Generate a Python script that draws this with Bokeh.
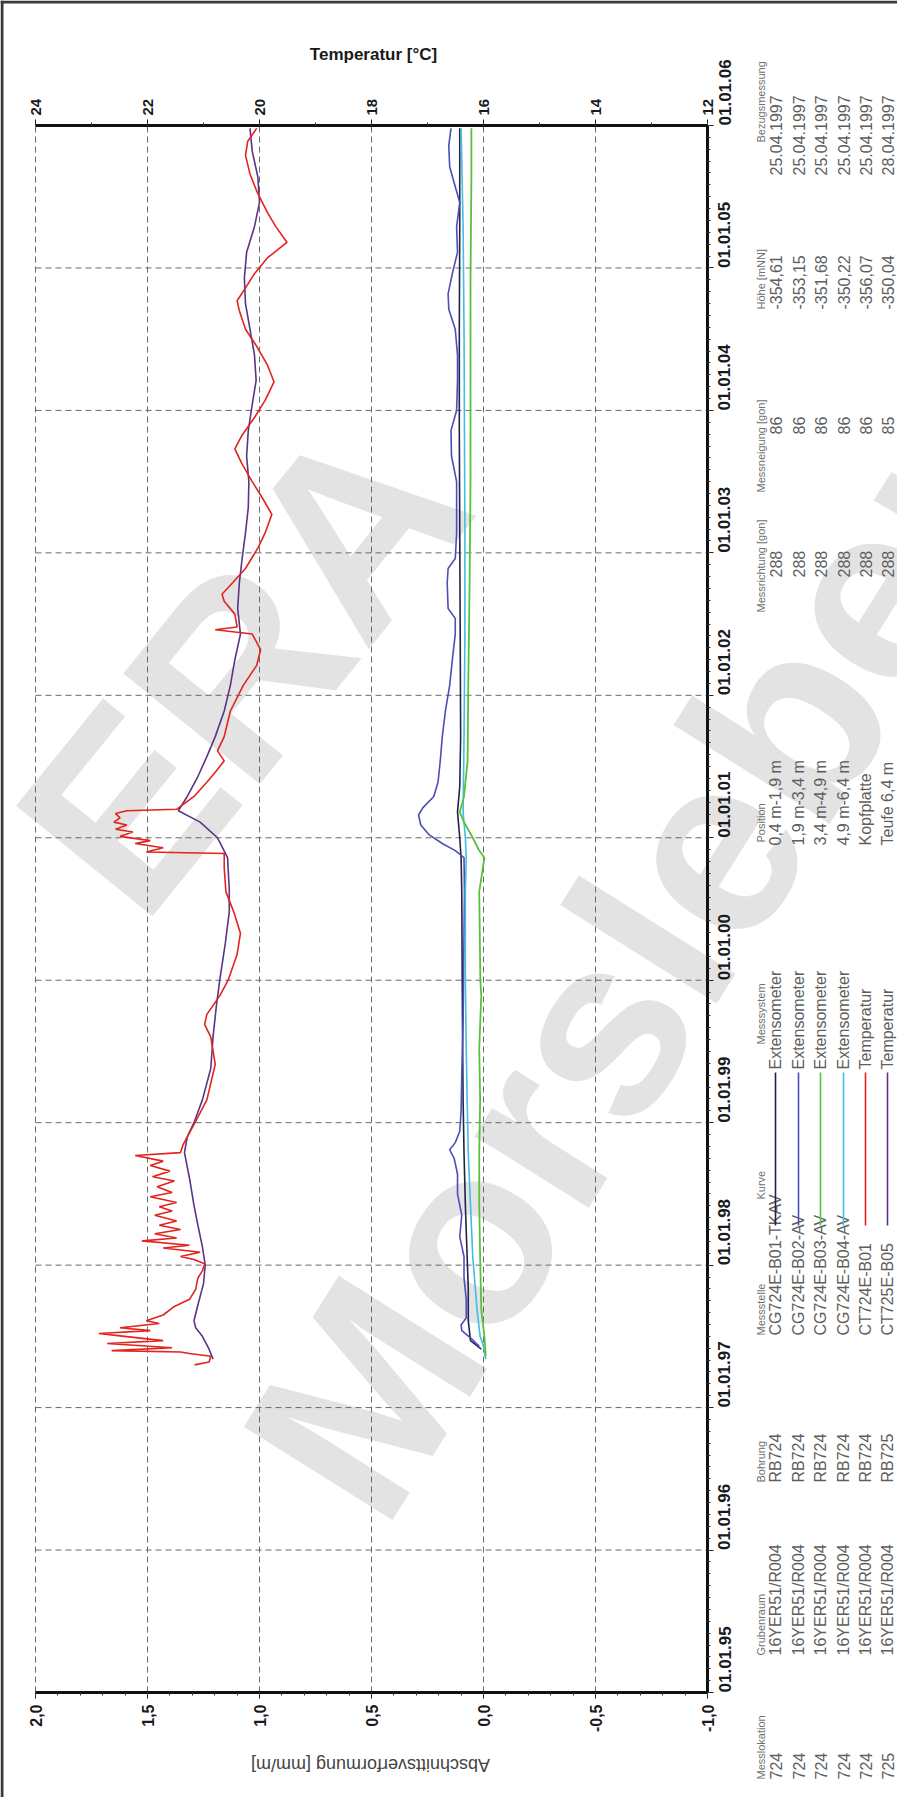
import math
from bokeh.plotting import figure
from bokeh.models import Range1d, LinearAxis, FixedTicker
from bokeh.core.properties import value
from bokeh.embed import file_html
from bokeh.resources import INLINE

# ---------------- data ----------------
years = [1995, 1996, 1997, 1998, 1999, 2000, 2001, 2002, 2003, 2004, 2005, 2006]
date_labels = ["01.01.95", "01.01.96", "01.01.97", "01.01.98", "01.01.99", "01.01.00",
               "01.01.01", "01.01.02", "01.01.03", "01.01.04", "01.01.05", "01.01.06"]
mm_ticks = [2.0, 1.5, 1.0, 0.5, 0.0, -0.5, -1.0]
mm_labels = ["2,0", "1,5", "1,0", "0,5", "0,0", "-0,5", "-1,0"]
temp_ticks = [24, 22, 20, 18, 16, 14, 12]
temp_labels = ["24", "22", "20", "18", "16", "14", "12"]

# CG724E-B01-TKAV (Extensometer, mm/m)
b01_year = [1997.41, 1997.47, 1997.61, 1997.83, 1998.06, 1998.42, 1998.79, 1999.16, 1999.52,
            2000.00, 2000.62, 2000.86, 2001.00, 2001.18, 2001.36, 2001.71, 2002.43, 2003.14,
            2003.86, 2004.57, 2005.29, 2005.98]
b01_mm = [0.010, 0.058, 0.068, 0.068, 0.073, 0.081, 0.087, 0.091, 0.093,
          0.095, 0.097, 0.100, 0.106, 0.116, 0.106, 0.102, 0.104, 0.106,
          0.108, 0.108, 0.106, 0.106]

# CG724E-B02-AV
b02_year = [1997.43, 1997.49, 1997.54, 1997.58, 1997.63, 1997.76, 1997.91, 1998.06, 1998.20,
            1998.35, 1998.50, 1998.64, 1998.75, 1998.81, 1998.86, 1998.94, 1999.08, 1999.34,
            1999.71, 2000.00, 2000.33, 2000.62, 2000.86, 2000.91, 2000.96, 2001.02, 2001.09,
            2001.16, 2001.21, 2001.29, 2001.39, 2001.54, 2001.71, 2001.89, 2002.07, 2002.25,
            2002.43, 2002.54, 2002.61, 2002.79, 2002.89, 2002.96, 2003.14, 2003.32, 2003.50,
            2003.68, 2003.86, 2004.00, 2004.21, 2004.39, 2004.57, 2004.71, 2004.82, 2004.96,
            2005.11, 2005.29, 2005.46, 2005.57, 2005.71, 2005.86, 2005.98]
b02_mm = [0.019, 0.058, 0.097, 0.100, 0.077, 0.077, 0.087, 0.087, 0.106,
          0.097, 0.116, 0.116, 0.131, 0.151, 0.126, 0.106, 0.100, 0.097,
          0.091, 0.089, 0.087, 0.085, 0.087, 0.126, 0.184, 0.242, 0.280,
          0.290, 0.271, 0.222, 0.203, 0.193, 0.184, 0.170, 0.151, 0.139,
          0.126, 0.126, 0.158, 0.162, 0.158, 0.126, 0.120, 0.120, 0.120,
          0.143, 0.145, 0.120, 0.116, 0.116, 0.126, 0.155, 0.158, 0.139,
          0.116, 0.120, 0.106, 0.126, 0.151, 0.155, 0.145]

# CG724E-B03-AV
b03_year = [1997.36, 1997.50, 1997.69, 1998.06, 1998.42, 1998.79, 1999.16, 1999.52, 1999.89,
            2000.00, 2000.62, 2000.86, 2000.91, 2001.00, 2001.11, 2001.18, 2001.29, 2001.54,
            2002.07, 2002.79, 2003.50, 2004.21, 2004.93, 2005.64, 2005.98]
b03_mm = [-0.010, -0.004, 0.010, 0.015, 0.019, 0.019, 0.015, 0.019, 0.010,
          0.014, 0.019, -0.004, 0.019, 0.048, 0.087, 0.106, 0.087, 0.071,
          0.068, 0.062, 0.058, 0.058, 0.058, 0.054, 0.054]

# CG724E-B04-AV
b04_year = [1997.34, 1997.43, 1997.50, 1997.69, 1998.06, 1998.42, 1998.79, 1999.16, 1999.52,
            2000.00, 2000.62, 2000.86, 2001.00, 2001.18, 2001.71, 2002.43, 2003.14, 2003.86,
            2004.57, 2005.29, 2005.98]
b04_mm = [-0.010, 0.000, 0.015, 0.029, 0.048, 0.058, 0.068, 0.073, 0.077,
          0.081, 0.081, 0.077, 0.081, 0.091, 0.087, 0.083, 0.083, 0.085,
          0.087, 0.091, 0.100]

# CT724E-B01 (Temperatur, Kopfplatte, deg C)
t724_year = [1997.30, 1997.32, 1997.36, 1997.38, 1997.39, 1997.40, 1997.42, 1997.45, 1997.47,
             1997.50, 1997.52, 1997.54, 1997.56, 1997.59, 1997.61, 1997.65, 1997.71, 1997.76,
             1997.83, 1997.91, 1997.96, 1998.01, 1998.04, 1998.06, 1998.09, 1998.12, 1998.14,
             1998.17, 1998.19, 1998.22, 1998.25, 1998.28, 1998.31, 1998.35, 1998.38, 1998.41,
             1998.44, 1998.48, 1998.51, 1998.55, 1998.59, 1998.62, 1998.66, 1998.70, 1998.73,
             1998.77, 1998.79, 1998.84, 1998.90, 1999.01, 1999.16, 1999.41, 1999.60, 1999.69,
             1999.76, 1999.89, 2000.00, 2000.18, 2000.33, 2000.48, 2000.62, 2000.79, 2000.89,
             2000.90, 2000.93, 2000.96, 2000.98, 2001.01, 2001.04, 2001.06, 2001.09, 2001.11,
             2001.14, 2001.17, 2001.19, 2001.20, 2001.29, 2001.39, 2001.46, 2001.54, 2001.61,
             2001.71, 2001.89, 2002.07, 2002.21, 2002.32, 2002.43, 2002.46, 2002.48, 2002.57,
             2002.66, 2002.71, 2002.79, 2002.89, 2003.04, 2003.14, 2003.27, 2003.38, 2003.50,
             2003.63, 2003.73, 2003.82, 2003.95, 2004.07, 2004.20, 2004.32, 2004.45, 2004.57,
             2004.70, 2004.77, 2004.86, 2004.96, 2005.07, 2005.18, 2005.29, 2005.39, 2005.54,
             2005.66, 2005.79, 2005.89, 2005.98]
t724_temp = [21.16, 20.90, 20.87, 21.25, 21.41, 22.64, 21.56, 22.72, 21.72,
             22.41, 22.87, 21.95, 22.49, 21.79, 22.02, 21.72, 21.52, 21.25,
             21.14, 21.10, 21.02, 20.98, 21.17, 21.41, 21.06, 21.72, 21.25,
             22.10, 21.48, 21.87, 21.41, 21.79, 21.48, 21.87, 21.56, 21.79,
             21.48, 21.95, 21.56, 21.83, 21.52, 21.91, 21.60, 21.95, 21.72,
             22.22, 21.41, 21.37, 21.29, 21.14, 20.94, 20.79, 20.87, 20.98,
             20.94, 20.71, 20.56, 20.40, 20.34, 20.46, 20.60, 20.63, 20.63,
             22.02, 21.72, 22.22, 21.95, 22.49, 22.26, 22.57, 22.37, 22.60,
             22.49, 22.57, 22.37, 21.48, 21.17, 20.94, 20.79, 20.63, 20.75,
             20.63, 20.52, 20.29, 20.05, 19.98, 20.13, 20.79, 20.40, 20.44,
             20.63, 20.67, 20.48, 20.25, 20.02, 19.90, 19.78, 19.94, 20.13,
             20.32, 20.44, 20.32, 20.09, 19.90, 19.74, 19.86, 20.05, 20.25,
             20.36, 20.40, 20.25, 20.09, 19.86, 19.51, 19.71, 19.86, 20.05,
             20.17, 20.25, 20.21, 20.05]

# CT725E-B05 (Temperatur, Teufe 6,4 m, deg C)
t725_year = [1997.34, 1997.41, 1997.50, 1997.56, 1997.61, 1997.72, 1997.87, 1998.00, 1998.13,
             1998.28, 1998.42, 1998.61, 1998.79, 1998.90, 1999.01, 1999.16, 1999.38, 1999.60,
             1999.82, 2000.00, 2000.26, 2000.48, 2000.64, 2000.86, 2001.00, 2001.11, 2001.19,
             2001.29, 2001.43, 2001.57, 2001.71, 2001.89, 2002.07, 2002.25, 2002.43, 2002.61,
             2002.79, 2002.96, 2003.14, 2003.32, 2003.50, 2003.68, 2003.86, 2004.04, 2004.21,
             2004.39, 2004.57, 2004.75, 2004.93, 2005.11, 2005.29, 2005.46, 2005.64, 2005.82,
             2005.98]
t725_temp = [20.83, 20.90, 21.02, 21.14, 21.17, 21.10, 21.00, 20.97, 21.02,
             21.10, 21.17, 21.25, 21.34, 21.29, 21.16, 21.02, 20.87, 20.83,
             20.77, 20.71, 20.61, 20.54, 20.54, 20.57, 20.75, 21.06, 21.45,
             21.29, 21.10, 20.94, 20.79, 20.63, 20.52, 20.44, 20.34, 20.39,
             20.36, 20.31, 20.25, 20.20, 20.19, 20.23, 20.20, 20.13, 20.06,
             20.09, 20.17, 20.25, 20.27, 20.23, 20.09, 20.00, 20.03, 20.13,
             20.17]

# legend table
hdr_names = ["Messlokation", "Grubenraum", "Bohrung", "Messstelle", "Kurve", "Messsystem",
             "Position", "Messrichtung [gon]", "Messneigung [gon]", "Höhe [mNN]", "Bezugsmessung"]
col_messlokation = ["724", "724", "724", "724", "724", "725"]
col_grubenraum = ["16YER51/R004"] * 6
col_bohrung = ["RB724", "RB724", "RB724", "RB724", "RB724", "RB725"]
col_messstelle = ["CG724E-B01-TKAV", "CG724E-B02-AV", "CG724E-B03-AV", "CG724E-B04-AV",
                  "CT724E-B01", "CT725E-B05"]
col_messsystem = ["Extensometer"] * 4 + ["Temperatur"] * 2
col_position = ["0,4 m-1,9 m", "1,9 m-3,4 m", "3,4 m-4,9 m", "4,9 m-6,4 m", "Kopfplatte", "Teufe 6,4 m"]
col_richtung = ["288"] * 6
col_neigung = ["86", "86", "86", "86", "86", "85"]
col_hoehe = ["-354,61", "-353,15", "-351,68", "-350,22", "-356,07", "-350,04"]
col_bezug = ["25.04.1997"] * 5 + ["28.04.1997"]

colors = ["#23234a", "#4d4db8", "#58c13c", "#42bde3", "#e2231e", "#5a3585"]

# ---------------- layout (reference pixel geometry) ----------------
W, H = 897, 1797                 # canvas; placed at page offset (8, 8)
REF_L, REF_T = 8, 8
REF_R, REF_B = REF_L + W, REF_T + H
PX0, PX1, PY0, PY1 = 43, 715, 133, 1700   # plot frame in page pixels


def mm_at(rx):
    return 2.0 - 3.0 * (rx - PX0) / (PX1 - PX0)


def temp_at(rx):
    return 24.0 - 12.0 * (rx - PX0) / (PX1 - PX0)


def year_at(ry):
    return 2006.0 - 11.0 * (ry - PY0) / (PY1 - PY0)


FONT = "Liberation Sans"

p = figure(width=W, height=H, output_backend="svg", toolbar_location=None,
           x_range=Range1d(mm_at(REF_L), mm_at(REF_R)),
           y_range=Range1d(year_at(REF_B), year_at(REF_T)),
           x_axis_location="below", y_axis_location="right", min_border=0,
           background_fill_color="white", border_fill_color="white")
p.outline_line_color = None
p.xgrid.visible = False
p.ygrid.visible = False
p.extra_x_ranges = {"temp": Range1d(temp_at(REF_L), temp_at(REF_R)), "px": Range1d(REF_L, REF_R)}
p.extra_y_ranges = {"px": Range1d(REF_B, REF_T)}

# watermark (beneath everything)
p.text(x=[250, 655], y=[672, 955], text=["ERA", "Morsleben"], angle=[0.89, 1.01],
       x_range_name="px", y_range_name="px", text_align="center", text_baseline="middle",
       text_font=value(FONT), text_font_style="bold", text_font_size=value("255px"),
       text_color="#e3e3e3", level="image")

# scan border
p.segment(x0=[REF_L + 1.5, REF_L], y0=[REF_T, REF_T + 1.5], x1=[REF_L + 1.5, REF_R], y1=[REF_B, REF_T + 1.5],
          x_range_name="px", y_range_name="px", line_color="#3a3a3a", line_width=3)

# grid (dashed, at the major ticks)
p.segment(x0=mm_ticks, y0=[years[0]] * len(mm_ticks), x1=mm_ticks, y1=[years[-1]] * len(mm_ticks),
          line_color="#6a6a6a", line_dash="6 4", line_width=1)
p.segment(x0=[mm_ticks[0]] * len(years), y0=years, x1=[mm_ticks[-1]] * len(years), y1=years,
          line_color="#6a6a6a", line_dash="6 4", line_width=1)


def style_axis(ax, size):
    ax.axis_line_width = 3
    ax.axis_line_color = "#111111"
    ax.major_tick_line_color = "#222222"
    ax.minor_tick_line_color = "#333333"
    ax.major_tick_in = 0
    ax.major_tick_out = 6
    ax.minor_tick_in = 0
    ax.minor_tick_out = 3
    ax.major_label_text_font = FONT
    ax.major_label_text_font_size = size
    ax.major_label_text_font_style = "bold"
    ax.major_label_text_color = "#1a1a1a"
    ax.major_label_orientation = math.pi / 2


xax = p.xaxis[0]
xax.ticker = FixedTicker(ticks=mm_ticks, minor_ticks=[round(-1.0 + 0.1 * i, 1) for i in range(31)])
xax.major_label_overrides = dict(zip(mm_ticks, mm_labels))
xax.fixed_location = years[0]
xax.bounds = (mm_ticks[-1], mm_ticks[0])
style_axis(xax, "16px")
xax.major_label_standoff = 6

yax = p.yaxis[0]
yax.ticker = FixedTicker(ticks=years, minor_ticks=[years[0] + i / 12 for i in range(133)])
yax.major_label_overrides = dict(zip(years, date_labels))
yax.fixed_location = mm_ticks[-1]
yax.bounds = (years[0], years[-1])
style_axis(yax, "17px")
yax.major_label_standoff = 11

tax = LinearAxis(x_range_name="temp", ticker=FixedTicker(ticks=temp_ticks, minor_ticks=list(range(12, 25))))
tax.major_label_overrides = dict(zip(temp_ticks, temp_labels))
tax.fixed_location = years[-1]
tax.bounds = (temp_ticks[-1], temp_ticks[0])
style_axis(tax, "15px")
tax.major_label_standoff = 4
p.add_layout(tax, "above")

# axis titles
p.text(x=[381], y=[62], text=["Temperatur [°C]"], x_range_name="px", y_range_name="px",
       text_align="center", text_baseline="middle", text_font=value(FONT),
       text_font_style="bold", text_font_size=value("17px"), text_color="#1a1a1a")
p.text(x=[378], y=[1772], text=["Abschnittsverformung [mm/m]"], angle=math.pi,
       x_range_name="px", y_range_name="px", text_align="center", text_baseline="middle",
       text_font=value(FONT), text_font_size=value("18px"), text_color="#444444")

# data lines
p.line(b01_mm, b01_year, line_color=colors[0], line_width=1.6)
p.line(b02_mm, b02_year, line_color=colors[1], line_width=1.6)
p.line(b04_mm, b04_year, line_color=colors[3], line_width=1.6)
p.line(b03_mm, b03_year, line_color=colors[2], line_width=1.8)
p.line(t725_temp, t725_year, x_range_name="temp", line_color=colors[5], line_width=1.6)
p.line(t724_temp, t724_year, x_range_name="temp", line_color=colors[4], line_width=1.6)

# legend table (rotated, reading bottom to top)
row_x = [783, 806, 828, 851, 873, 895]
hdr_x = 768
columns = [col_messlokation, col_grubenraum, col_bohrung, col_messstelle, None, col_messsystem,
           col_position, col_richtung, col_neigung, col_hoehe, col_bezug]
hdr_start = [1787, 1663, 1490, 1343, 1207, 1052, 850, 620, 500, 317, 150]
data_start = [1787, 1663, 1490, 1343, None, 1077, 853, 585, 442, 317, 183]

p.text(x=[hdr_x] * len(hdr_names), y=hdr_start, text=hdr_names, angle=math.pi / 2,
       x_range_name="px", y_range_name="px", text_align="left", text_baseline="middle",
       text_font=value(FONT), text_font_size=value("11px"), text_color="#707070")

tx, ty, tt = [], [], []
for col, ys in zip(columns, data_start):
    if col is None:
        continue
    for rx, t in zip(row_x, col):
        tx.append(rx)
        ty.append(ys)
        tt.append(t)
p.text(x=tx, y=ty, text=tt, angle=math.pi / 2, x_range_name="px", y_range_name="px",
       text_align="left", text_baseline="middle", text_font=value(FONT),
       text_font_size=value("16px"), text_color="#5e5e5e")

p.segment(x0=row_x, y0=[1233] * 6, x1=row_x, y1=[1080] * 6, x_range_name="px", y_range_name="px",
          line_color=colors, line_width=1.6)

open("out.html", "w").write(file_html(p, INLINE))
